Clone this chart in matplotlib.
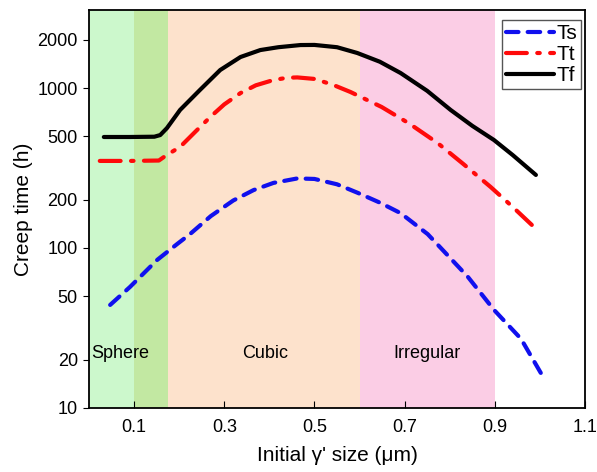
import matplotlib
matplotlib.use("Agg")
import matplotlib.pyplot as plt
from matplotlib.ticker import FixedLocator, NullLocator

plt.rcParams["font.family"] = ["Liberation Sans", "DejaVu Sans"]

# creep times (h) vs initial gamma' size (um)
ts_x = [0.047, 0.091, 0.151, 0.196, 0.224, 0.27, 0.32, 0.365, 0.409, 0.462, 0.5,
        0.55, 0.596, 0.645, 0.691, 0.751, 0.78, 0.84, 0.898, 0.958, 1.007]
ts_y = [44, 57, 84, 106, 122, 158, 198, 230, 255, 272, 270,
        250, 221, 192, 165, 122, 100, 66, 41, 27, 15.6]

tt_x = [0.024, 0.09, 0.155, 0.173, 0.202, 0.235, 0.269, 0.3, 0.336, 0.37, 0.409,
        0.44, 0.462, 0.5, 0.54, 0.58, 0.649, 0.71, 0.773, 0.83, 0.891, 0.94, 0.987]
tt_y = [350, 350, 352, 382, 428, 530, 659, 790, 930, 1040, 1122,
        1160, 1165, 1140, 1050, 944, 761, 600, 453, 335, 240, 180, 135]

tf_x = [0.033, 0.09, 0.145, 0.158, 0.173, 0.202, 0.246, 0.291, 0.336, 0.38, 0.42,
        0.469, 0.5, 0.55, 0.595, 0.645, 0.691, 0.75, 0.802, 0.85, 0.898, 0.94, 0.991]
tf_y = [494, 494, 496, 508, 562, 729, 972, 1296, 1563, 1728, 1800,
        1857, 1860, 1800, 1656, 1460, 1241, 960, 729, 580, 473, 380, 286]

# morphology regions: (start, end, colour, label, label x)
regions = [(0.0, 0.175, "#ccf8cc", "Sphere", 0.0),
           (0.1, 0.175, "#c2e8a2", None, None),
           (0.175, 0.6, "#fde2cc", "Cubic", 0.39),
           (0.6, 0.9, "#fbcde5", "Irregular", 0.75)]

x_ticks = [0.1, 0.3, 0.5, 0.7, 0.9, 1.1]
y_ticks = [10, 20, 50, 100, 200, 500, 1000, 2000]

fig = plt.figure(figsize=(5.97, 4.72), dpi=100)
ax = fig.add_axes([0.149, 0.136, 0.831, 0.843])

for x0, x1, c, lab, lx in regions:
    ax.axvspan(x0, x1, color=c, lw=0, zorder=0)
    if lab:
        ax.text(lx + 0.004 if lab == "Sphere" else lx, 22, lab, fontsize=13,
                ha="left" if lab == "Sphere" else "center", va="center")

ax.plot(ts_x, ts_y, color="#1010ee", lw=3, ls=(0, (3, 2.2)), label="Ts",
        solid_capstyle="round", dash_capstyle="round")
ax.plot(tt_x, tt_y, color="#ff0a0a", lw=3, ls=(0, (5, 2.5, 0.6, 2.5)), label="Tt",
        dash_capstyle="round")
ax.plot(tf_x, tf_y, color="black", lw=3, label="Tf", solid_capstyle="round")

ax.set_yscale("log")
ax.set_xlim(0.0, 1.1)
ax.set_ylim(10, 3080)
ax.xaxis.set_major_locator(FixedLocator(x_ticks))
ax.set_xticklabels([f"{v:.1f}" for v in x_ticks])
ax.yaxis.set_major_locator(FixedLocator(y_ticks))
ax.yaxis.set_minor_locator(NullLocator())
ax.set_yticklabels([str(v) for v in y_ticks])
ax.tick_params(axis="x", direction="in", length=5, labelsize=13, pad=8)
ax.tick_params(axis="y", direction="out", length=4, labelsize=13, pad=4)
for s in ax.spines.values():
    s.set_linewidth(1.3)

ax.set_xlabel("Initial \u03b3' size (\u03bcm)", fontsize=15, labelpad=7)
ax.set_ylabel("Creep time (h)", fontsize=15, labelpad=3)

leg = ax.legend(loc="upper right", bbox_to_anchor=(0.992, 0.975), fontsize=15,
                handlelength=2.3, handletextpad=0.1, borderpad=0.2,
                labelspacing=0.1, borderaxespad=0, fancybox=False,
                edgecolor="#555555", framealpha=1)
leg.get_frame().set_linewidth(1.0)

fig.savefig("out.png", dpi=100)
